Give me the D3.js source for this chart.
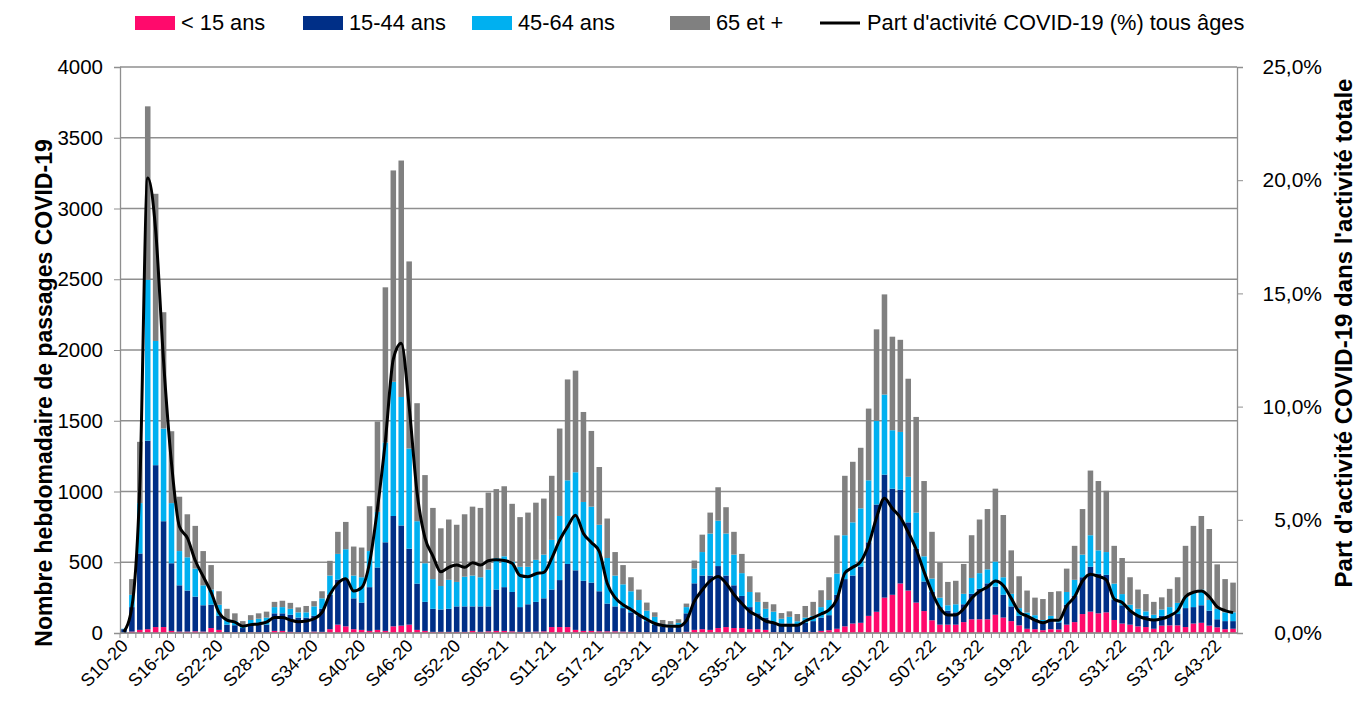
<!DOCTYPE html>
<html>
<head>
<meta charset="utf-8">
<script src="https://cdnjs.cloudflare.com/ajax/libs/d3/7.8.5/d3.min.js"></script>
<style>
  body { margin: 0; background: #fff; font-family: "Liberation Sans", Arial, sans-serif; }
</style>
</head>
<body>
<div id="chart"></div>
<script>
// semaines
var weeks = [
  "S10-20","S11-20","S12-20","S13-20","S14-20","S15-20","S16-20","S17-20","S18-20","S19-20","S20-20","S21-20",
  "S22-20","S23-20","S24-20","S25-20","S26-20","S27-20","S28-20","S29-20","S30-20","S31-20","S32-20","S33-20",
  "S34-20","S35-20","S36-20","S37-20","S38-20","S39-20","S40-20","S41-20","S42-20","S43-20","S44-20","S45-20",
  "S46-20","S47-20","S48-20","S49-20","S50-20","S51-20","S52-20","S53-20",
  "S01-21","S02-21","S03-21","S04-21","S05-21","S06-21","S07-21","S08-21","S09-21","S10-21","S11-21","S12-21",
  "S13-21","S14-21","S15-21","S16-21","S17-21","S18-21","S19-21","S20-21","S21-21","S22-21","S23-21","S24-21",
  "S25-21","S26-21","S27-21","S28-21","S29-21","S30-21","S31-21","S32-21","S33-21","S34-21","S35-21","S36-21",
  "S37-21","S38-21","S39-21","S40-21","S41-21","S42-21","S43-21","S44-21","S45-21","S46-21","S47-21","S48-21",
  "S49-21","S50-21","S51-21","S52-21",
  "S01-22","S02-22","S03-22","S04-22","S05-22","S06-22","S07-22","S08-22","S09-22","S10-22","S11-22","S12-22",
  "S13-22","S14-22","S15-22","S16-22","S17-22","S18-22","S19-22","S20-22","S21-22","S22-22","S23-22","S24-22",
  "S25-22","S26-22","S27-22","S28-22","S29-22","S30-22","S31-22","S32-22","S33-22","S34-22","S35-22","S36-22",
  "S37-22","S38-22","S39-22","S40-22","S41-22","S42-22","S43-22","S44-22","S45-22"
];

var moins15 = [
  2,10,22,27,42,42,15,10,10,12,10,35,22,5,5,3,5,5,5,15,15,8,5,5,
  10,8,27,59,47,27,22,15,22,15,47,52,59,22,15,8,8,8,8,8,
  15,8,12,15,15,12,8,8,10,12,42,42,42,22,15,15,12,12,12,10,8,5,5,3,
  3,3,3,8,22,27,22,35,42,35,35,27,27,22,5,3,3,3,5,5,15,20,30,47,
  67,72,121,150,
  250,270,350,300,215,155,90,59,59,59,77,97,97,97,129,109,84,54,30,27,20,27,25,59,
  77,134,151,139,146,92,67,59,47,42,30,52,54,54,42,67,72,52,40,27,30
];
var age15_44 = [
  25,173,540,1332,1144,748,478,327,290,245,186,165,99,54,50,32,54,54,54,124,124,121,104,104,
  111,163,243,317,334,218,193,309,441,626,780,708,537,327,205,163,158,163,180,180,
  173,180,176,292,309,278,175,195,210,233,265,332,446,421,354,341,283,196,176,166,138,116,79,56,
  40,38,44,131,329,379,384,438,364,302,227,156,112,87,67,64,64,60,67,79,94,106,240,334,
  339,396,520,758,
  869,750,662,482,381,209,200,124,99,87,126,180,215,254,198,161,104,67,85,74,50,70,50,141,
  185,260,317,279,265,141,129,100,80,80,70,69,75,80,134,116,124,106,57,57,54
];
var age45_64 = [
  3,87,356,1138,878,655,425,242,235,198,141,107,79,38,30,12,33,42,50,44,44,42,37,37,
  67,74,136,183,211,161,179,255,393,705,948,908,708,441,273,210,166,205,173,210,
  218,206,260,223,218,215,285,265,297,309,351,453,591,693,557,537,470,322,218,168,149,112,74,55,
  20,20,25,44,104,166,297,321,297,217,161,107,81,62,79,34,47,20,37,37,74,107,150,310,
  376,413,438,592,
  566,413,409,322,255,178,95,67,38,57,74,112,111,99,178,124,89,55,30,25,22,24,25,90,
  114,160,223,166,161,116,79,41,44,31,29,45,54,79,81,104,111,75,74,62,62
];
var plus65 = [
  0,111,433,1225,1040,822,508,384,304,302,242,173,95,74,54,37,34,38,42,37,45,42,35,45,
  37,50,104,156,193,205,210,317,639,1097,1494,1671,1322,834,623,503,408,426,404,441,
  487,490,544,487,495,408,351,383,404,396,453,618,713,718,636,535,408,279,166,136,99,74,57,32,
  29,23,25,25,57,123,148,236,186,161,136,111,67,49,52,40,39,51,82,99,119,161,270,420,
  428,428,507,646,
  708,661,651,693,676,532,330,247,165,166,211,302,379,426,515,440,307,225,155,124,148,169,195,165,
  240,322,457,490,433,267,255,194,136,122,91,86,129,181,359,470,520,502,314,235,210
];
// part d'activité COVID-19 (%), tous âges
var partActivite = [
  0.05,1.15,6.5,20.1,17.8,12.0,7.5,4.7,4.2,3.2,2.5,1.8,0.9,0.57,0.48,0.3,0.37,0.4,0.48,0.68,0.68,0.57,0.5,0.53,
  0.63,0.91,1.7,2.2,2.4,1.85,2.0,3.1,5.5,8.5,12.1,12.8,10.0,6.2,4.2,3.4,2.7,2.9,3.0,2.9,
  3.1,3.0,3.19,3.24,3.2,3.08,2.54,2.49,2.62,2.68,3.3,4.1,4.7,5.2,4.4,4.0,3.6,2.2,1.56,1.25,1.04,0.8,0.6,0.42,
  0.33,0.3,0.3,0.55,1.4,1.9,2.3,2.5,2.2,1.7,1.3,0.95,0.75,0.53,0.45,0.34,0.34,0.34,0.53,0.68,0.84,1.02,1.5,2.65,
  2.9,3.15,3.9,5.1,
  5.95,5.5,5.1,4.45,3.7,2.7,1.8,1.1,0.8,0.8,1.07,1.53,1.84,2.03,2.3,2.1,1.53,0.93,0.75,0.57,0.45,0.56,0.56,1.2,
  1.6,2.3,2.6,2.5,2.35,1.5,1.35,0.99,0.76,0.63,0.57,0.63,0.76,0.99,1.6,1.8,1.85,1.6,1.15,0.99,0.9
];

var leftTicks = [0,500,1000,1500,2000,2500,3000,3500,4000];
var rightTicks = [0,5,10,15,20,25];

var keys = ["moins15","age15_44","age45_64","plus65"];
var labels = ["< 15 ans","15-44 ans","45-64 ans","65 et +"];
var colors = ["#ff0a6c","#002f87","#00b0f0","#808080"];

var table = weeks.map(function(w, i) {
  return { week: w, moins15: moins15[i], age15_44: age15_44[i], age45_64: age45_64[i], plus65: plus65[i] };
});

var W = 1367, H = 706;
var plotL = 120, plotR = 1237, plotT = 67, plotB = 633;

var svg = d3.select("#chart").append("svg")
  .attr("width", W)
  .attr("height", H);

var x = d3.scaleBand().domain(weeks).range([plotL, plotR]).paddingInner(0.3).paddingOuter(0.15);
var y = d3.scaleLinear().domain([0, 4000]).range([plotB, plotT]);
var y2 = d3.scaleLinear().domain([0, 25]).range([plotB, plotT]);
var step = x.step();

// grille
svg.append("g").selectAll("line")
  .data(leftTicks)
  .enter().append("line")
  .attr("x1", plotL).attr("x2", plotR)
  .attr("y1", function(d) { return y(d); })
  .attr("y2", function(d) { return y(d); })
  .attr("stroke", "#8f8f8f")
  .attr("stroke-width", 1.3);

// barres empilées
var series = d3.stack().keys(keys)(table);
svg.append("g").selectAll("g")
  .data(series)
  .enter().append("g")
  .attr("fill", function(d, i) { return colors[i]; })
  .selectAll("rect")
  .data(function(d) { return d; })
  .enter().append("rect")
  .attr("x", function(d) { return x(d.data.week); })
  .attr("width", x.bandwidth())
  .attr("y", function(d) { return y(d[1]); })
  .attr("height", function(d) { return y(d[0]) - y(d[1]); });

// axe gauche
var axL = svg.append("g")
  .attr("transform", "translate(" + plotL + ",0)")
  .call(d3.axisLeft(y).tickValues(leftTicks).tickSize(6).tickPadding(11).tickFormat(d3.format("d")));
axL.selectAll("text").style("font-size", "20.5px").style("font-family", "Liberation Sans, Arial").attr("fill", "#000");
axL.selectAll("line").attr("stroke", "#8f8f8f");
axL.select(".domain").attr("stroke", "#8f8f8f").attr("stroke-width", 1.3);

// axe droit (libellés alignés à droite)
var axR = svg.append("g")
  .attr("transform", "translate(" + plotR + ",0)")
  .call(d3.axisRight(y2).tickValues(rightTicks).tickSize(6)
    .tickFormat(function(d) { return d.toFixed(1).replace(".", ",") + "%"; }));
axR.selectAll("text")
  .attr("x", 85)
  .attr("text-anchor", "end")
  .style("font-size", "21px").style("font-family", "Liberation Sans, Arial").attr("fill", "#000");
axR.selectAll("line").attr("stroke", "#8f8f8f");
axR.select(".domain").attr("stroke", "#8f8f8f").attr("stroke-width", 1.3);

// axe des x : graduations entre catégories
svg.append("g").selectAll("line")
  .data(weeks)
  .enter().append("line")
  .attr("x1", function(d) { return x(d) - (step - x.bandwidth()) / 2; })
  .attr("x2", function(d) { return x(d) - (step - x.bandwidth()) / 2; })
  .attr("y1", plotB).attr("y2", plotB + 5)
  .attr("stroke", "#8f8f8f");
svg.append("line")
  .attr("x1", plotL).attr("x2", plotR)
  .attr("y1", plotB).attr("y2", plotB)
  .attr("stroke", "#8f8f8f").attr("stroke-width", 1.3);

svg.append("g").selectAll("text")
  .data(weeks.filter(function(d, i) { return i % 6 === 0; }))
  .enter().append("text")
  .attr("transform", function(d) {
    return "translate(" + (x(d) + x.bandwidth() / 2 + 5) + "," + (plotB + 14) + ") rotate(-45)";
  })
  .attr("text-anchor", "end")
  .style("font-size", "18px")
  .text(function(d) { return d; });

// courbe part d'activité
var line = d3.line()
  .x(function(d, i) { return x(weeks[i]) + x.bandwidth() / 2; })
  .y(function(d) { return y2(d); })
  .curve(d3.curveMonotoneX);
svg.append("path")
  .datum(partActivite)
  .attr("d", line)
  .attr("fill", "none")
  .attr("stroke", "#000")
  .attr("stroke-width", 3);

// titres des axes
svg.append("text")
  .attr("transform", "translate(52,393) rotate(-90)")
  .attr("text-anchor", "middle")
  .style("font-size", "23px").style("font-weight", "bold")
  .text("Nombre hebdomadaire de passages COVID-19");
svg.append("text")
  .attr("transform", "translate(1352,333) rotate(-90)")
  .attr("text-anchor", "middle")
  .style("font-size", "24px").style("font-weight", "bold")
  .text("Part d'activité COVID-19 dans l'activité totale");

// légende
var legendX = [135, 303, 472, 670];
var legend = svg.append("g");
labels.forEach(function(l, i) {
  legend.append("rect")
    .attr("x", legendX[i]).attr("y", 16)
    .attr("width", 40).attr("height", 14)
    .attr("fill", colors[i]);
  legend.append("text")
    .attr("x", legendX[i] + 46).attr("y", 30)
    .style("font-size", "21.8px")
    .text(l);
});
legend.append("line")
  .attr("x1", 820).attr("x2", 860)
  .attr("y1", 23).attr("y2", 23)
  .attr("stroke", "#000").attr("stroke-width", 3);
legend.append("text")
  .attr("x", 867).attr("y", 30)
  .style("font-size", "21.8px")
  .text("Part d'activité COVID-19 (%) tous âges");
</script>
</body>
</html>
